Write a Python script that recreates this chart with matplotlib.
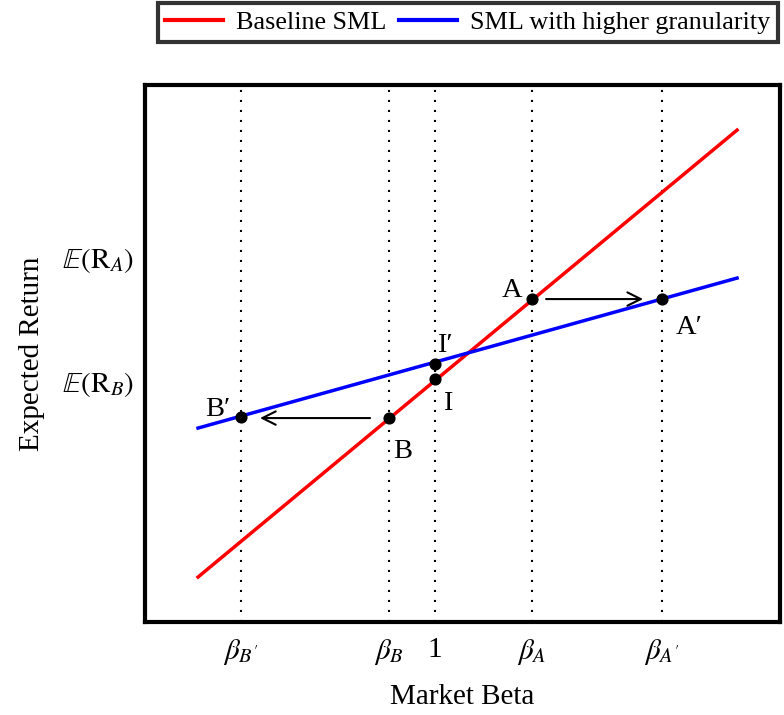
import matplotlib
matplotlib.use("Agg")
import matplotlib.pyplot as plt

plt.rcParams["font.family"] = ["Liberation Serif", "DejaVu Serif"]
plt.rcParams["mathtext.fontset"] = "stix"

# vertical guides / x tick positions (market beta)
beta_ticks = [0.03, 0.77, 1.0, 1.485, 2.135]
beta_labels = [r"$\beta_{B'}$", r"$\beta_B$", "1", r"$\beta_A$", r"$\beta_{A'}$"]

# y tick positions (expected return)
ret_ticks = [3.65, 2.41]
ret_labels = [r"$\mathbb{E}(\mathrm{R}_A)$", r"$\mathbb{E}(\mathrm{R}_B)$"]

# security market lines (endpoints)
base_x = [-0.185, 2.51]
base_y = [0.45, 4.92]
gran_x = [-0.185, 2.51]
gran_y = [1.94, 3.44]

# labelled points
pt_names = ["A", "A'", "B", "B'", "I", "I'"]
pt_x = [1.485, 2.135, 0.77, 0.03, 1.0, 1.0]
pt_y = [3.23, 3.23, 2.04, 2.05, 2.43, 2.58]

fig = plt.figure(figsize=(7.84, 7.15), dpi=100)
ax = fig.add_axes([0.185, 0.130, 0.81, 0.751])

for b in beta_ticks:
    ax.axvline(b, color="black", linestyle=(0, (1, 3.8)), linewidth=1.5, zorder=1)

ax.plot(base_x, base_y, color="red", linewidth=2.5, label="Baseline SML", zorder=2)
ax.plot(gran_x, gran_y, color="blue", linewidth=2.5, label="SML with higher granularity", zorder=2)
ax.scatter(pt_x, pt_y, color="black", s=60, zorder=3)

# point labels (offsets in points, baseline anchored)
offsets = {"A": (-22, 1.5), "A'": (9.5, -25), "B": (3, -28.5), "B'": (-25.5, 0.7),
           "I": (5.8, -22), "I'": (1.4, 8.6)}
for n, x, y in zip(pt_names, pt_x, pt_y):
    dx, dy = offsets[n]
    lbl = n.replace("'", "\u2032")
    ax.annotate(lbl, (x, y), xytext=(dx, dy), textcoords="offset points",
                fontsize=20.5)

# shift arrows
ax.annotate("", xy=(2.04, 3.23), xytext=(1.555, 3.23),
            arrowprops=dict(arrowstyle="->", color="black", lw=1.5,
                            mutation_scale=24, shrinkA=0, shrinkB=0))
ax.annotate("", xy=(0.125, 2.04), xytext=(0.675, 2.04),
            arrowprops=dict(arrowstyle="->", color="black", lw=1.5,
                            mutation_scale=24, shrinkA=0, shrinkB=0))

ax.set_xlim(-0.45, 2.725)
ax.set_ylim(0, 5.37)
ax.set_xticks(beta_ticks)
ax.set_xticklabels(beta_labels, fontsize=21)
ax.set_yticks(ret_ticks)
ax.set_yticklabels(ret_labels, fontsize=21)
ax.tick_params(axis="x", length=0, pad=11)
ax.tick_params(axis="y", length=0, pad=8)
for s in ax.spines.values():
    s.set_linewidth(3)

ax.set_xlabel("Market Beta", fontsize=21, labelpad=12)
ax.set_ylabel("Expected Return", fontsize=21, labelpad=12)

leg = fig.legend(loc="upper right", bbox_to_anchor=(778 / 784, 1 - 3 / 715), ncol=2,
                 fontsize=18.8, frameon=True, fancybox=False, edgecolor="black",
                 handlelength=2.2, columnspacing=0.5, handletextpad=0.5,
                 borderpad=0.3, borderaxespad=0)
leg.get_frame().set_linewidth(3)
for h in leg.get_lines():
    h.set_linewidth(3)

fig.savefig("out.png", dpi=100)
